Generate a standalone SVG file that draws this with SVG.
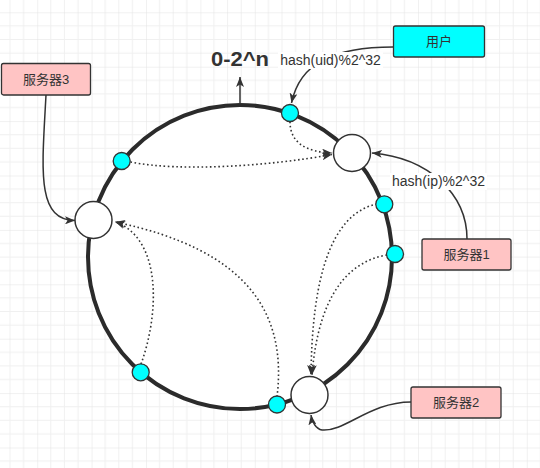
<svg xmlns="http://www.w3.org/2000/svg" width="540" height="468" viewBox="0 0 540 468">
<defs>
<pattern id="grid" x="37.2" y="12.3" width="54.4" height="54.4" patternUnits="userSpaceOnUse">
<path d="M13.6,0V54.4M27.2,0V54.4M40.8,0V54.4M0,13.6H54.4M0,27.2H54.4M0,40.8H54.4" stroke="#f0f0f0" stroke-width="1" fill="none"/>
<path d="M0,0V54.4M0,0H54.4" stroke="#e3e3e3" stroke-width="1" fill="none"/>
</pattern>
<marker id="arr" viewBox="0 0 10 8" refX="10" refY="4" markerWidth="10" markerHeight="8" markerUnits="userSpaceOnUse" orient="auto">
<path d="M0,0 L10,4 L0,8 L2.5,4 Z" fill="#333333" stroke="none"/>
</marker>
<style>
.solid{fill:none;stroke:#333333;stroke-width:1.5;marker-end:url(#arr)}
.dot{fill:none;stroke:#333333;stroke-width:1.6;stroke-dasharray:1.6 2.6;marker-end:url(#arr)}
.cyan{fill:#00ffff;stroke:#333333;stroke-width:1.3}
.srv{fill:#ffffff;stroke:#333333;stroke-width:1.5}
.box{fill:#ffc4c4;stroke:#333333;stroke-width:1.3}
.lbl{font-family:"Liberation Sans","Noto Sans CJK SC",sans-serif;font-size:13px;fill:#333333;text-anchor:middle}
.edge{font-family:"Liberation Sans",sans-serif;font-size:14px;fill:#333333;text-anchor:middle}
</style>
</defs>
<rect width="540" height="468" fill="#ffffff"/>
<rect width="540" height="468" fill="url(#grid)"/>
<g id="ring">
<circle cx="240" cy="257" r="152" fill="#ffffff" stroke="#2b2b2b" stroke-width="4"/>
</g>
<g id="connectors">
<path class="solid" d="M240,104 L240,77"/>
<path class="solid" d="M393,47 C335,47 300,62 291.5,103"/>
<path class="solid" d="M467,239 C467,195 430,158 372,153"/>
<path class="solid" d="M46,95 C42,170 36,220 75,220.5"/>
<path class="solid" d="M411,402 C370,402 345,432 322,430 C316,429 312,422 311,415"/>
<path class="dot" d="M290,121.5 C290,142 305,152 332,153"/>
<path class="dot" d="M130.5,162 C180,172 270,166 332,154.5"/>
<path class="dot" d="M377,204 C330,214 312,280 311,375"/>
<path class="dot" d="M387,255 C345,262 318,300 312,375"/>
<path class="dot" d="M141,364 C158,318 164,240 115,221.5"/>
<path class="dot" d="M277,397 C287,315 250,250 115,222"/>
<rect x="278" y="52" width="105" height="17" fill="#ffffff"/>
<text class="edge" x="330.5" y="65">hash(uid)%2^32</text>
<rect x="390" y="173" width="97" height="17" fill="#ffffff"/>
<text class="edge" x="438.5" y="186">hash(ip)%2^32</text>
</g>
<g id="title">
<text x="240" y="66" font-family="Liberation Sans, sans-serif" font-size="20" font-weight="bold" fill="#333333" text-anchor="middle" textLength="58" lengthAdjust="spacingAndGlyphs">0-2^n</text>
</g>
<g id="srv-top"><circle class="srv" cx="352" cy="153" r="18.5"/></g>
<g id="srv-left"><circle class="srv" cx="93.5" cy="220" r="18.5"/></g>
<g id="srv-bottom"><circle class="srv" cx="309.5" cy="395" r="18.5"/></g>
<g id="p-uid"><circle class="cyan" cx="290" cy="113" r="8.5"/></g>
<g id="p-1"><circle class="cyan" cx="121.7" cy="161" r="8.5"/></g>
<g id="p-2"><circle class="cyan" cx="384.3" cy="204.3" r="8.5"/></g>
<g id="p-3"><circle class="cyan" cx="395" cy="254" r="8.5"/></g>
<g id="p-4"><circle class="cyan" cx="140.7" cy="372.3" r="8.5"/></g>
<g id="p-5"><circle class="cyan" cx="277" cy="404.5" r="8.5"/></g>
<g id="user"><rect x="393.5" y="26" width="91" height="31" rx="2" fill="#00ffff" stroke="#333333" stroke-width="1.3"/><text class="lbl" x="439" y="45.5">用户</text></g>
<g id="server3"><rect class="box" x="1.5" y="63.5" width="89" height="31.5" rx="2"/><text class="lbl" x="46" y="83.5">服务器3</text></g>
<g id="server1"><rect class="box" x="422" y="239" width="89" height="31" rx="2"/><text class="lbl" x="466.5" y="259">服务器1</text></g>
<g id="server2"><rect class="box" x="411" y="387" width="90" height="31" rx="2"/><text class="lbl" x="456" y="407">服务器2</text></g>
</svg>
